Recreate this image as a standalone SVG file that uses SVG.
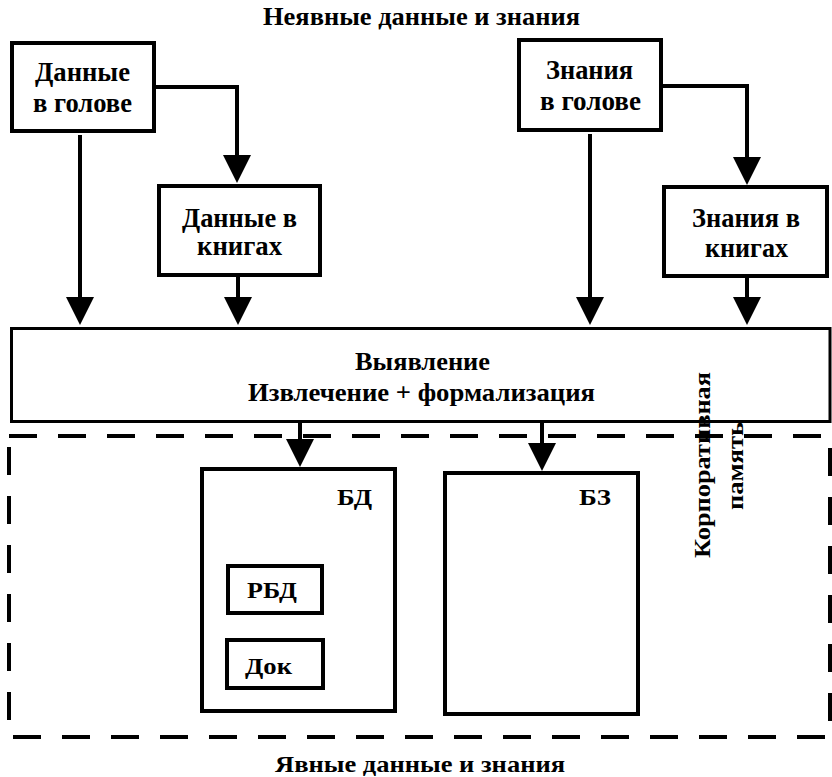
<svg xmlns="http://www.w3.org/2000/svg" width="832" height="777" viewBox="0 0 832 777" font-family="'Liberation Serif', 'Times New Roman', serif" font-weight="bold">
<style>
text{font-family:'Liberation Serif','Times New Roman',serif;font-weight:700;fill:#000}
.t23{font-size:23px}
.t24{font-size:24px}
.t26{font-size:26px}
.t27{font-size:27px}
.box{fill:#fff;stroke:#000;stroke-width:4}
.main{fill:#fff;stroke:#000;stroke-width:3}
.dash{fill:none;stroke:#000;stroke-width:4;stroke-dasharray:28 21}
.conn{fill:none;stroke:#000;stroke-width:4}
</style>
<defs>
<marker id="ah" markerUnits="userSpaceOnUse" markerWidth="28" markerHeight="28" viewBox="0 0 28 28" refX="18" refY="14" orient="auto">
<path d="M0,0 L28,14 L0,28 z" fill="#000"/>
</marker>
</defs>
<rect width="832" height="777" fill="#fff"/>

<text class="t26" x="263" y="25" textLength="317" lengthAdjust="spacingAndGlyphs">Неявные данные и знания</text>

<g id="main">
<rect class="main" x="11.5" y="328.5" width="818.5" height="93"/>
<text class="t26" x="355" y="370" textLength="135" lengthAdjust="spacingAndGlyphs">Выявление</text>
<text class="t26" x="248" y="401" textLength="347" lengthAdjust="spacingAndGlyphs">Извлечение + формализация</text>
</g>

<g id="memory">
<path class="dash" d="M9,436 H830 V737 H9 Z"/>
<text class="t23" transform="translate(710,558) rotate(-90)" textLength="186" lengthAdjust="spacingAndGlyphs">Корпоративная</text>
<text class="t23" transform="translate(743,510) rotate(-90)" textLength="88" lengthAdjust="spacingAndGlyphs">память</text>
</g>

<g id="connectors">
<path class="conn" d="M156,87 H237 V173" marker-end="url(#ah)"/>
<path class="conn" d="M80,135 V315" marker-end="url(#ah)"/>
<path class="conn" d="M238,277 V315" marker-end="url(#ah)"/>
<path class="conn" d="M663,86 H747 V175" marker-end="url(#ah)"/>
<path class="conn" d="M590,134 V315" marker-end="url(#ah)"/>
<path class="conn" d="M747,278 V315" marker-end="url(#ah)"/>
<path class="conn" d="M300,423 V457" marker-end="url(#ah)"/>
<path class="conn" d="M542,423 V461" marker-end="url(#ah)"/>
</g>

<g id="data-head">
<rect class="box" x="12" y="43" width="142" height="88"/>
<text class="t27" x="35" y="81" textLength="95" lengthAdjust="spacingAndGlyphs">Данные</text>
<text class="t27" x="33" y="112" textLength="99" lengthAdjust="spacingAndGlyphs">в голове</text>
</g>

<g id="data-books">
<rect class="box" x="159" y="186" width="161" height="89"/>
<text class="t27" x="182" y="227" textLength="115" lengthAdjust="spacingAndGlyphs">Данные в</text>
<text class="t27" x="197" y="255" textLength="85" lengthAdjust="spacingAndGlyphs">книгах</text>
</g>

<g id="knowledge-head">
<rect class="box" x="519" y="40" width="142" height="90"/>
<text class="t27" x="546" y="79" textLength="87" lengthAdjust="spacingAndGlyphs">Знания</text>
<text class="t27" x="540" y="110" textLength="101" lengthAdjust="spacingAndGlyphs">в голове</text>
</g>

<g id="knowledge-books">
<rect class="box" x="664" y="187" width="163" height="89"/>
<text class="t27" x="692" y="227" textLength="108" lengthAdjust="spacingAndGlyphs">Знания в</text>
<text class="t27" x="705" y="257" textLength="83" lengthAdjust="spacingAndGlyphs">книгах</text>
</g>

<g id="bd">
<rect class="box" x="202" y="469" width="193" height="242"/>
<text class="t23" x="337" y="505" textLength="35" lengthAdjust="spacingAndGlyphs">БД</text>
</g>

<g id="rbd">
<rect class="box" x="228" y="566" width="94" height="47"/>
<text class="t23" x="247" y="598" textLength="50" lengthAdjust="spacingAndGlyphs">РБД</text>
</g>

<g id="dok">
<rect class="box" x="227" y="640" width="96" height="48"/>
<text class="t24" x="245" y="674" textLength="47" lengthAdjust="spacingAndGlyphs">Док</text>
</g>

<g id="bz">
<rect class="box" x="445" y="473" width="193" height="241"/>
<text class="t23" x="579" y="505" textLength="32" lengthAdjust="spacingAndGlyphs">БЗ</text>
</g>

<text class="t24" x="275" y="772" textLength="290" lengthAdjust="spacingAndGlyphs">Явные данные и знания</text>
</svg>
